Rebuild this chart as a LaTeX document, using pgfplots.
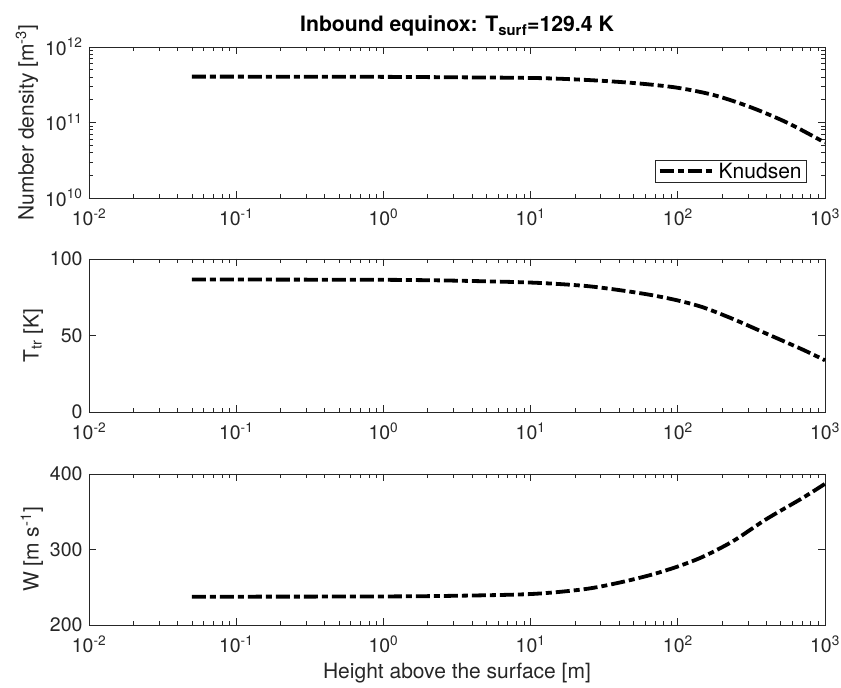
\documentclass[border=0pt]{standalone}
\usepackage{pgfplots}
\pgfplotsset{compat=1.18}
\usepackage{fontspec}
\setmainfont{TeX Gyre Heros}
\definecolor{axgray}{RGB}{38,38,38}
\pgfplotsset{
  mystyle/.style={
    scale only axis, width=736pt,
    xmin=0.01, xmax=1000,
    xtick={0.01,0.1,1,10,100,1000},
    xticklabels={10\textsuperscript{-2},10\textsuperscript{-1},10\textsuperscript{0},10\textsuperscript{1},10\textsuperscript{2},10\textsuperscript{3}},
    axis line style={axgray, line width=0.7pt},
    every tick/.style={axgray, line width=0.7pt},
    tick align=inside,
    major tick length=7pt, minor tick length=4pt,
    tick label style={font=\fontsize{19.5}{23}\selectfont, text=axgray},
    xticklabel style={yshift=-7pt},
    yticklabel style={xshift=-3pt},
    label style={font=\fontsize{21}{25}\selectfont, text=axgray},
    /pgf/number format/assume math mode=true,
    anchor=south west,
    clip=false,
  },
}
\tikzset{knud/.style={black, line width=3.8pt, dash pattern=on 14pt off 4pt on 6pt off 4pt}}
\pgfplotstableread{
x nd
0.05 4.05e11
0.3 4.04e11
1 4.02e11
3 3.97e11
10 3.89e11
17.8 3.76e11
31.6 3.55e11
56.2 3.27e11
100 2.88e11
178 2.29e11
316 1.58e11
562 0.98e11
1000 0.54e11
}\dataN
\pgfplotstableread{
x T W
0.05 86.6 237.5
0.3 86.5 237.6
1 86.4 237.8
2.86 85.9 238.6
10 84.6 241
22.9 82.5 247.3
38.5 79.9 255.4
64.6 76.6 266
100 72.9 277.5
148.5 68.4 290.5
237 60.8 311
398 51.3 340
701 40.9 368
1000 33.8 387
}\dataTW
\begin{document}
\begin{tikzpicture}
\useasboundingbox (0,0) rectangle (841pt,688pt);
\begin{loglogaxis}[mystyle, at={(89pt,490pt)}, height=151pt,
  ymin=1e10, ymax=1e12,
  ytick={1e10,1e11,1e12},
  yticklabels={10\textsuperscript{10},10\textsuperscript{11},10\textsuperscript{12}},
  ylabel={Number density [m\textsuperscript{-3}]},
  title={Inbound equinox: T\textsubscript{surf}=129.4 K},
  title style={font=\fontsize{21.2}{25}\selectfont\bfseries, yshift=1pt},
  legend style={at={(0.9755,0.099)}, anchor=south east, draw=axgray, line width=0.7pt,
    font=\fontsize{21}{25}\selectfont, inner xsep=3pt, inner ysep=1pt},
  legend cell align=left,
  legend image code/.code={\draw[#1] (0pt,0pt) -- (52pt,0pt); \path (0pt,0pt) -- (55pt,0pt);},
]
\addplot[knud, smooth] table[x=x,y=nd] {\dataN};
\addlegendentry{Knudsen}
\end{loglogaxis}
\begin{semilogxaxis}[mystyle, at={(89pt,276pt)}, height=153pt,
  ymin=0, ymax=100, ytick={0,50,100},
  ylabel={T\textsubscript{tr} [K]},
]
\addplot[knud, smooth] table[x=x,y=T] {\dataTW};
\end{semilogxaxis}
\begin{semilogxaxis}[mystyle, at={(89pt,63pt)}, height=151pt,
  ymin=200, ymax=400, ytick={200,300,400},
  ylabel={W [m s\textsuperscript{-1}]},
  xlabel={Height above the surface [m]},
  xlabel style={yshift=-3pt},
]
\addplot[knud, smooth] table[x=x,y=W] {\dataTW};
\end{semilogxaxis}
\end{tikzpicture}
\end{document}
